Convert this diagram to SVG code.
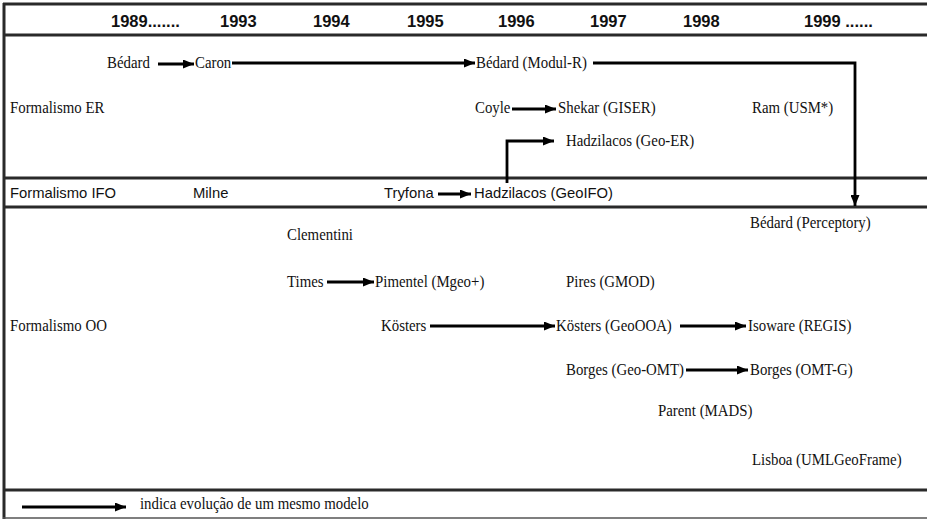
<svg xmlns="http://www.w3.org/2000/svg" width="927" height="519" viewBox="0 0 927 519">
<defs>
<marker id="ah" markerWidth="11" markerHeight="9" refX="11" refY="4.5" orient="auto" markerUnits="userSpaceOnUse">
<path d="M0,0 L11,4.5 L0,9 Z" fill="#000"/>
</marker>
<style>
.frame{stroke:#2a2a2a;stroke-width:3;fill:none}
.thin{stroke:#555;stroke-width:1.5;fill:none}
.yr{font-family:"Liberation Sans",Arial,sans-serif;font-weight:bold;font-size:16.5px;fill:#111}
.s{font-family:"Liberation Serif","Times New Roman",Times,serif;font-size:16.5px;fill:#111}
.a{font-family:"Liberation Sans",Arial,sans-serif;font-size:14.8px;fill:#111}
.c{stroke:#000;stroke-width:2.8;fill:none;marker-end:url(#ah)}
</style>
</defs>
<rect width="927" height="519" fill="#fff"/>
<g id="frame">
<line class="frame" x1="3" y1="4" x2="927" y2="4"/>
<line class="frame" x1="4" y1="3" x2="4" y2="519"/>
<line class="frame" x1="3" y1="35" x2="927" y2="35"/>
<line class="frame" x1="3" y1="178" x2="927" y2="178"/>
<line class="frame" x1="3" y1="207" x2="927" y2="207"/>
<line class="frame" x1="3" y1="490" x2="927" y2="490"/>
<line class="thin" x1="3" y1="518" x2="927" y2="518"/>
</g>
<g id="years">
<text class="yr" x="111" y="27">1989.......</text>
<text class="yr" x="220" y="27">1993</text>
<text class="yr" x="313" y="27">1994</text>
<text class="yr" x="407" y="27">1995</text>
<text class="yr" x="498" y="27">1996</text>
<text class="yr" x="590" y="27">1997</text>
<text class="yr" x="683" y="27">1998</text>
<text class="yr" x="804" y="27">1999 ......</text>
</g>
<g id="lane-labels">
<g transform="translate(10,113) scale(0.9,1)"><text class="s">Formalismo ER</text></g>
<text class="a" x="10" y="198">Formalismo IFO</text>
<g transform="translate(10,331) scale(0.9,1)"><text class="s">Formalismo OO</text></g>
</g>
<g id="n-bedard" transform="translate(107,68) scale(0.9,1)"><text class="s">Bédard</text></g>
<g id="n-caron" transform="translate(195,68) scale(0.9,1)"><text class="s">Caron</text></g>
<g id="n-bedard-modulr" transform="translate(476,68) scale(0.9,1)"><text class="s">Bédard (Modul-R)</text></g>
<g id="n-coyle" transform="translate(475,113) scale(0.9,1)"><text class="s">Coyle</text></g>
<g id="n-shekar" transform="translate(558,113) scale(0.9,1)"><text class="s">Shekar (GISER)</text></g>
<g id="n-ram" transform="translate(752,113) scale(0.9,1)"><text class="s">Ram (USM*)</text></g>
<g id="n-hadzilacos-geoer" transform="translate(566,146) scale(0.9,1)"><text class="s">Hadzilacos (Geo-ER)</text></g>
<g id="n-milne"><text class="a" x="193" y="198">Milne</text></g>
<g id="n-tryfona"><text class="a" x="384" y="198">Tryfona</text></g>
<g id="n-hadzilacos-geoifo"><text class="a" x="474" y="198">Hadzilacos (GeoIFO)</text></g>
<g id="n-bedard-perceptory" transform="translate(750,228) scale(0.9,1)"><text class="s">Bédard (Perceptory)</text></g>
<g id="n-clementini" transform="translate(287,240) scale(0.9,1)"><text class="s">Clementini</text></g>
<g id="n-times" transform="translate(287,287) scale(0.9,1)"><text class="s">Times</text></g>
<g id="n-pimentel" transform="translate(375,287) scale(0.9,1)"><text class="s">Pimentel (Mgeo+)</text></g>
<g id="n-pires" transform="translate(566,287) scale(0.9,1)"><text class="s">Pires (GMOD)</text></g>
<g id="n-kosters" transform="translate(381,331) scale(0.9,1)"><text class="s">Kösters</text></g>
<g id="n-kosters-geoooa" transform="translate(556,331) scale(0.9,1)"><text class="s">Kösters (GeoOOA)</text></g>
<g id="n-isoware" transform="translate(748,331) scale(0.9,1)"><text class="s">Isoware (REGIS)</text></g>
<g id="n-borges-geoomt" transform="translate(566,375) scale(0.9,1)"><text class="s">Borges (Geo-OMT)</text></g>
<g id="n-borges-omtg" transform="translate(750,375) scale(0.9,1)"><text class="s">Borges (OMT-G)</text></g>
<g id="n-parent" transform="translate(658,416) scale(0.9,1)"><text class="s">Parent (MADS)</text></g>
<g id="n-lisboa" transform="translate(752,465) scale(0.9,1)"><text class="s">Lisboa (UMLGeoFrame)</text></g>
<g id="legend" transform="translate(140,509) scale(0.9,1)"><text class="s">indica evolução de um mesmo modelo</text></g>
<g id="connectors">
<path class="c" d="M158,64 H194"/>
<path class="c" d="M232,63 H475"/>
<path class="c" d="M593,63 H855 V206"/>
<path class="c" d="M512,109 H556"/>
<path class="c" d="M507,183 V141 H554"/>
<path class="c" d="M438,194 H471"/>
<path class="c" d="M327,282 H374"/>
<path class="c" d="M430,326 H555"/>
<path class="c" d="M680,326 H746"/>
<path class="c" d="M686,370 H748"/>
<path class="c" d="M22,507 H126"/>
</g>
</svg>
